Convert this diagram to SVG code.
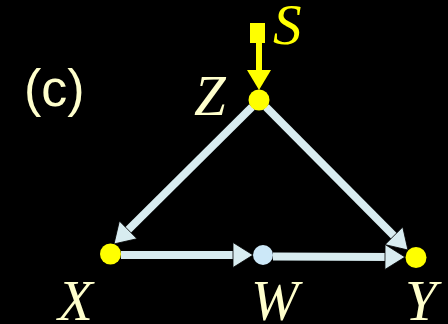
<svg xmlns="http://www.w3.org/2000/svg" width="448" height="324" viewBox="0 0 448 324">
<style>
.lbl{font-family:"Liberation Serif","Times New Roman",serif;font-style:italic;font-size:57px;fill:#ffffcc}
.edge{stroke:#d8ecf0;stroke-width:8;fill:none}
.node{fill:#ffff00}
</style>
<defs>
<marker id="ah" markerUnits="userSpaceOnUse" markerWidth="26" markerHeight="28" viewBox="-1 -14 26 28" refX="8" refY="0" orient="auto">
<path d="M0,-12.5 L20,0 L0,12.5 Z" fill="#d8ecf0" stroke="#000" stroke-width="0.8"/>
</marker>
<marker id="ahy" markerUnits="userSpaceOnUse" markerWidth="26" markerHeight="28" viewBox="-1 -14 26 28" refX="8" refY="0" orient="auto">
<path d="M0,-12 L20,0 L0,12 Z" fill="#ffff00"/>
</marker>
</defs>
<rect width="448" height="324" fill="#000"/>
<text x="24" y="106" font-family="Liberation Sans, Arial, sans-serif" font-size="52" fill="#ffffcc">(c)</text>
<g id="connectors">
<path class="edge" d="M252,107 L122.5,235.5" marker-end="url(#ah)"/>
<path class="edge" d="M266,107 L399.5,241.5" marker-end="url(#ah)"/>
<path class="edge" d="M121,255 L241,255" marker-end="url(#ah)"/>
<path class="edge" d="M273,256.5 L393,257" marker-end="url(#ah)"/>
<path d="M259,42 L259,78" stroke="#ffff00" stroke-width="6" fill="none" marker-end="url(#ahy)"/>
</g>
<g id="S">
<rect x="250" y="23" width="15" height="20" fill="#ffff00"/>
<text class="lbl" x="273" y="44" style="fill:#ffff00">S</text>
</g>
<g id="Z">
<circle class="node" cx="259" cy="100" r="10.5"/>
<text class="lbl" x="194" y="115">Z</text>
</g>
<g id="X">
<circle class="node" cx="110.5" cy="254" r="10.5"/>
<text class="lbl" x="58" y="320">X</text>
</g>
<g id="W">
<circle cx="263" cy="255" r="10" fill="#cce8f8"/>
<text class="lbl" x="251" y="320">W</text>
</g>
<g id="Y">
<circle class="node" cx="416" cy="257.5" r="10.5"/>
<text class="lbl" x="405" y="320">Y</text>
</g>
</svg>
